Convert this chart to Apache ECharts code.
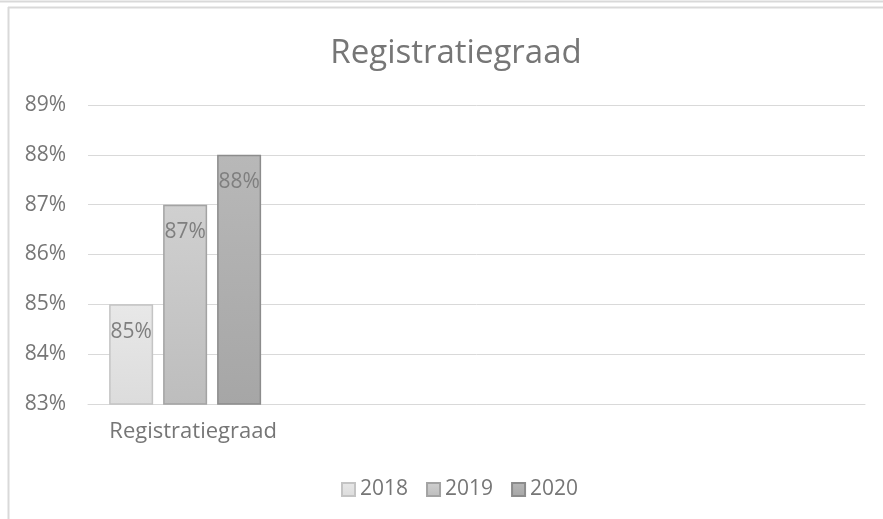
<!DOCTYPE html>
<html>
<head>
<meta charset="utf-8">
<script src="https://cdn.jsdelivr.net/npm/echarts@6/dist/echarts.min.js"></script>
<style>
  html, body { margin: 0; padding: 0; background: #fff; }
  #chart { width: 883px; height: 519px; }
</style>
</head>
<body>
<div id="chart"></div>
<script>
// data
const categories = ['Registratiegraad', '', '', ''];
const years = ['2018', '2019', '2020'];
const values2018 = [85, null, null, null];
const values2019 = [87, null, null, null];
const values2020 = [88, null, null, null];
const yTicks = { min: 83, max: 89, interval: 1 };

const font = '"Open Sans", sans-serif';
const textGray = '#767676';

function grad(top, bottom) {
  return new echarts.graphic.LinearGradient(0, 0, 0, 1, [
    { offset: 0, color: top },
    { offset: 1, color: bottom }
  ]);
}

const styles = [
  { fill: grad('#e8e8e8', '#dcdcdc'), border: '#c4c4c4' },
  { fill: grad('#d0d0d0', '#bdbdbd'), border: '#a3a3a3' },
  { fill: grad('#b8b8b8', '#a6a6a6'), border: '#8c8c8c' }
];
const seriesData = [values2018, values2019, values2020];

let chart = echarts.init(document.getElementById('chart'));

let option = {
  backgroundColor: '#fff',
  animation: false,
  title: {
    text: 'Registratiegraad',
    left: 451,
    textAlign: 'center',
    top: 32,
    textStyle: { fontFamily: font, fontSize: 33, fontWeight: 'normal', color: textGray }
  },
  legend: {
    top: 474,
    left: 336,
    icon: 'rect',
    itemWidth: 13,
    itemHeight: 13,
    itemGap: 18,
    textStyle: { fontFamily: font, fontSize: 21, color: textGray },
    data: years
  },
  grid: { left: 88, right: 18, top: 105, bottom: 115, containLabel: false },
  xAxis: {
    type: 'category',
    data: categories,
    axisTick: { show: false },
    axisLine: { lineStyle: { color: '#d9d9d9', width: 1 } },
    axisLabel: { fontFamily: font, fontSize: 22, color: textGray, margin: 17, padding: [0, 0, 0, 16] }
  },
  yAxis: {
    type: 'value',
    min: yTicks.min,
    max: yTicks.max,
    interval: yTicks.interval,
    axisLine: { show: false },
    axisTick: { show: false },
    splitLine: { lineStyle: { color: '#d9d9d9', width: 1 } },
    axisLabel: { formatter: '{value}%', fontFamily: font, fontSize: 21, color: textGray, margin: 22 }
  },
  graphic: [
    { type: 'line', shape: { x1: 0, y1: 1.5, x2: 883, y2: 1.5 }, style: { stroke: '#d9d9d9', lineWidth: 2 } },
    { type: 'line', shape: { x1: 8, y1: 7.5, x2: 883, y2: 7.5 }, style: { stroke: '#d9d9d9', lineWidth: 2 } },
    { type: 'line', shape: { x1: 8.5, y1: 7, x2: 8.5, y2: 519 }, style: { stroke: '#d9d9d9', lineWidth: 2 } }
  ],
  series: years.map((y, i) => ({
    name: y,
    type: 'bar',
    data: seriesData[i],
    barWidth: 44,
    barGap: '22.7%',
    itemStyle: { color: styles[i].fill, borderColor: styles[i].border, borderWidth: 1.5 },
    label: {
      show: true,
      position: 'insideTop',
      distance: 17,
      formatter: '{c}%',
      fontFamily: font,
      fontSize: 21,
      color: '#7f7f7f'
    }
  }))
};

option && chart.setOption(option);
</script>
</body>
</html>
